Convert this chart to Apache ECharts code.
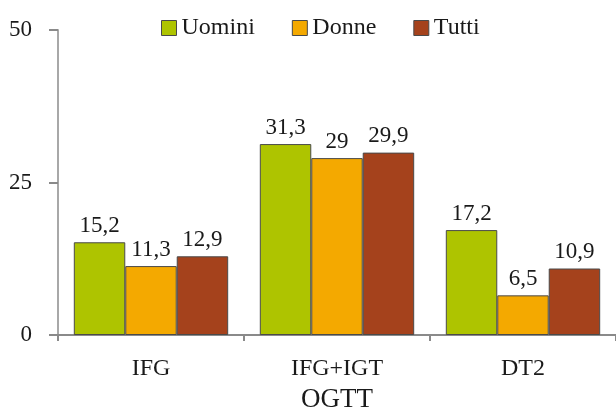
<!DOCTYPE html>
<html>
<head>
<meta charset="utf-8">
<script src="https://cdn.jsdelivr.net/npm/echarts@6/dist/echarts.min.js"></script>
<style>
  html, body { margin: 0; padding: 0; background: #fff; }
  #chart { width: 616px; height: 415px; }
</style>
</head>
<body>
<div id="chart"></div>
<script>
// OGTT categories and percentage values per group
const categories = ['IFG', 'IFG+IGT', 'DT2'];
const uomini = [15.2, 31.3, 17.2];
const donne = [11.3, 29, 6.5];
const tutti = [12.9, 29.9, 10.9];
const seriesNames = ['Uomini', 'Donne', 'Tutti'];
const colors = ['#aec400', '#f4a900', '#a5421c'];

const FONT = '"Liberation Serif", "DejaVu Serif", serif';

const labelFmt = p => String(p.value).replace('.', ',');

function makeSeries(name, data, color) {
  return {
    name: name,
    type: 'bar',
    data: data,
    barGap: '0%',
    barCategoryGap: '17%',
    itemStyle: { color: color, borderColor: '#4a4a4a', borderWidth: 1 },
    label: {
      show: true,
      position: 'top',
      distance: 5,
      formatter: labelFmt,
      fontFamily: FONT,
      fontSize: 23,
      color: '#1a1a1a'
    }
  };
}

const chart = echarts.init(document.getElementById('chart'), null, { renderer: 'canvas' });
chart.setOption({
  animation: false,
  color: colors,
  textStyle: { fontFamily: FONT },
  legend: {
    data: seriesNames,
    left: 156,
    top: 11,
    itemWidth: 15,
    itemHeight: 15,
    itemGap: 37,
    icon: 'rect',
    itemStyle: { borderColor: '#4a4a4a', borderWidth: 1 },
    textStyle: { fontFamily: FONT, fontSize: 24, color: '#1a1a1a' }
  },
  grid: { left: 58, right: 0, top: 30, bottom: 80, containLabel: false, outerBoundsMode: 'none' },
  xAxis: {
    type: 'category',
    data: categories,
    name: 'OGTT',
    nameLocation: 'middle',
    nameGap: 51,
    nameTextStyle: { fontFamily: FONT, fontSize: 27, color: '#1a1a1a' },
    axisLine: { lineStyle: { color: '#8a8a8a', width: 2 } },
    axisTick: { show: true, length: 6, lineStyle: { color: '#8a8a8a', width: 2 } },
    axisLabel: { margin: 22, fontFamily: FONT, fontSize: 24, color: '#1a1a1a' }
  },
  yAxis: {
    type: 'value',
    min: 0,
    max: 50,
    interval: 25,
    splitLine: { show: false },
    axisLine: { show: true, lineStyle: { color: '#a8a8a8', width: 2 } },
    axisTick: { show: true, length: 9, lineStyle: { color: '#8a8a8a', width: 2 } },
    axisLabel: { margin: 26, fontFamily: FONT, fontSize: 23, color: '#1a1a1a' }
  },
  series: [
    makeSeries(seriesNames[0], uomini, colors[0]),
    makeSeries(seriesNames[1], donne, colors[1]),
    makeSeries(seriesNames[2], tutti, colors[2])
  ]
});
</script>
</body>
</html>
